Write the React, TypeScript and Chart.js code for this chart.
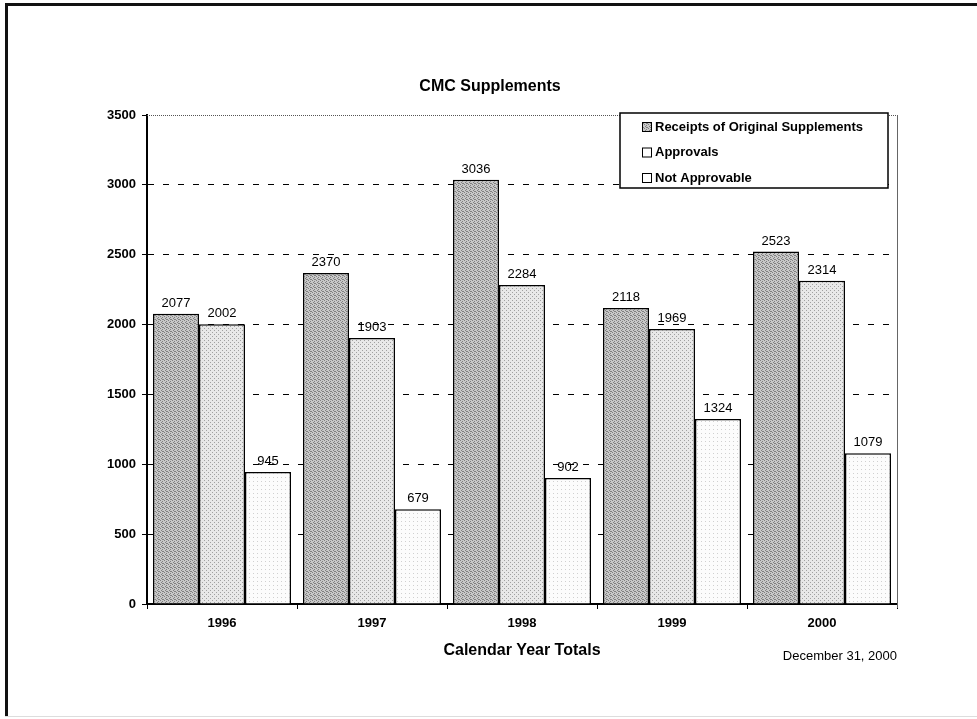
import React, { useEffect, useRef } from "react";
import { Chart, registerables } from "chart.js";

Chart.register(...registerables);

const years = ["1996", "1997", "1998", "1999", "2000"];
const receipts = [2077, 2370, 3036, 2118, 2523];
const approvals = [2002, 1903, 2284, 1969, 2314];
const notApprovable = [945, 679, 902, 1324, 1079];
const seriesNames = ["Receipts of Original Supplements", "Approvals", "Not Approvable"];
const yTicks = [0, 500, 1000, 1500, 2000, 2500, 3000, 3500];
const chartTitle = "CMC Supplements";
const xTitle = "Calendar Year Totals";
const dateNote = "December 31, 2000";

const FONT = "'Liberation Sans', Arial, sans-serif";

function makePattern(base: string, dot: string, dots: number[][]): CanvasPattern | string {
  const c = document.createElement("canvas");
  c.width = 4;
  c.height = 4;
  const g = c.getContext("2d");
  if (!g) return base;
  g.fillStyle = base;
  g.fillRect(0, 0, 4, 4);
  g.fillStyle = dot;
  dots.forEach(([x, y]) => g.fillRect(x, y, 1, 1));
  const p = g.createPattern(c, "repeat");
  return p || base;
}

export default function App() {
  const ref = useRef<HTMLCanvasElement | null>(null);

  useEffect(() => {
    const canvas = ref.current;
    if (!canvas) return;

    const fill1 = makePattern("#c8c8c8", "#808080", [[0, 0], [2, 1], [1, 2], [3, 3], [2, 3]]);
    const fill2 = makePattern("#e8e8e8", "#a0a0a0", [[0, 0], [2, 2]]);
    const fill3 = makePattern("#fcfcfc", "#d0d0d0", [[1, 1]]);
    const fills = [fill1, fill2, fill3];
    const legendFills = [fill1, "#fff", "#fff"];

    const framePlugin = {
      id: "frame",
      beforeDraw(chart: any) {
        const ctx = chart.ctx;
        ctx.save();
        ctx.fillStyle = "#fff";
        ctx.fillRect(0, 0, chart.width, chart.height);
        ctx.fillStyle = "#111";
        ctx.fillRect(5, 3, 972, 3);
        ctx.fillRect(5, 3, 3, 714);
        ctx.fillStyle = "#ddd";
        ctx.fillRect(5, 716, 972, 1);
        ctx.restore();
      },
    };

    const decorPlugin = {
      id: "decor",
      afterDraw(chart: any) {
        const ctx = chart.ctx;
        const a = chart.chartArea;
        ctx.save();
        ctx.strokeStyle = "#555";
        ctx.lineWidth = 1;
        ctx.setLineDash([1, 1]);
        ctx.beginPath();
        ctx.moveTo(a.left, a.top + 0.5);
        ctx.lineTo(a.right, a.top + 0.5);
        ctx.stroke();
        ctx.setLineDash([]);
        ctx.strokeStyle = "#666";
        ctx.beginPath();
        ctx.moveTo(a.right + 0.5, a.top);
        ctx.lineTo(a.right + 0.5, a.bottom + 4);
        ctx.stroke();

        ctx.fillStyle = "#000";
        ctx.font = `13px ${FONT}`;
        ctx.textAlign = "center";
        ctx.textBaseline = "bottom";
        chart.data.datasets.forEach((ds: any, i: number) => {
          const meta = chart.getDatasetMeta(i);
          meta.data.forEach((bar: any, j: number) => {
            ctx.fillText(String(ds.data[j]), bar.x, bar.y - 4);
          });
        });

        ctx.font = `bold 16px ${FONT}`;
        ctx.textBaseline = "middle";
        ctx.fillText(chartTitle, 490, 87);
        ctx.fillText(xTitle, (a.left + a.right) / 2, 651);
        ctx.font = `13px ${FONT}`;
        ctx.textAlign = "right";
        ctx.fillText(dateNote, a.right, 656);

        const lx = 620, ly = 113, lw = 268, lh = 75;
        ctx.fillStyle = "#fff";
        ctx.fillRect(lx, ly, lw, lh);
        ctx.strokeStyle = "#000";
        ctx.lineWidth = 1.5;
        ctx.strokeRect(lx, ly, lw, lh);
        ctx.font = `bold 13px ${FONT}`;
        ctx.textAlign = "left";
        ctx.textBaseline = "middle";
        chart.data.datasets.forEach((ds: any, i: number) => {
          const cy = ly + 14 + i * 25.5;
          ctx.fillStyle = legendFills[i];
          ctx.fillRect(642, cy - 4.5, 9, 9);
          ctx.strokeStyle = "#000";
          ctx.lineWidth = 1;
          ctx.strokeRect(642.5, cy - 4.5, 9, 9);
          ctx.fillStyle = "#000";
          ctx.fillText(ds.label, 655, cy);
        });
        ctx.restore();
      },
    };

    const chart = new Chart(canvas, {
      type: "bar",
      data: {
        labels: years,
        datasets: [receipts, approvals, notApprovable].map((d, i) => ({
          label: seriesNames[i],
          data: d,
          backgroundColor: fills[i] as any,
          borderColor: "#000",
          borderWidth: 1.5,
          barPercentage: 1,
          categoryPercentage: 0.92,
        })),
      },
      options: {
        responsive: false,
        animation: false,
        devicePixelRatio: 1,
        layout: { padding: { top: 115, right: 80, bottom: 0, left: 0 } },
        plugins: {
          legend: { display: false },
          tooltip: { enabled: false },
          title: { display: false },
        },
        scales: {
          x: {
            afterFit: (s: any) => {
              s.height = 115;
            },
            grid: {
              drawOnChartArea: false,
              drawTicks: true,
              tickLength: 5,
              color: "#000",
              tickColor: "#000",
            },
            border: { display: true, color: "#000", width: 2 },
            ticks: {
              color: "#000",
              padding: 7,
              font: { family: FONT, size: 13, weight: "bold" },
            },
          },
          y: {
            min: yTicks[0],
            max: yTicks[yTicks.length - 1],
            afterFit: (s: any) => {
              s.width = 147;
            },
            afterBuildTicks: (s: any) => {
              s.ticks = yTicks.map((v) => ({ value: v }));
            },
            grid: {
              color: (c: any) =>
                c.tick && (c.tick.value === 0 || c.tick.value === 3500) ? "rgba(0,0,0,0)" : "#000",
              tickColor: "#000",
              tickLength: 5,
              lineWidth: 1,
            },
            border: { display: true, color: "#000", width: 2, dash: [6, 9] },
            ticks: {
              color: "#000",
              padding: 6,
              font: { family: FONT, size: 13, weight: "bold" },
              callback: (v: any) => String(v),
            },
          },
        },
      },
      plugins: [framePlugin, decorPlugin],
    });

    return () => chart.destroy();
  }, []);

  return (
    <div style={{ position: "fixed", left: 0, top: 0, width: 977, height: 719, background: "#fff" }}>
      <canvas ref={ref} width={977} height={719} style={{ display: "block" }} />
    </div>
  );
}
